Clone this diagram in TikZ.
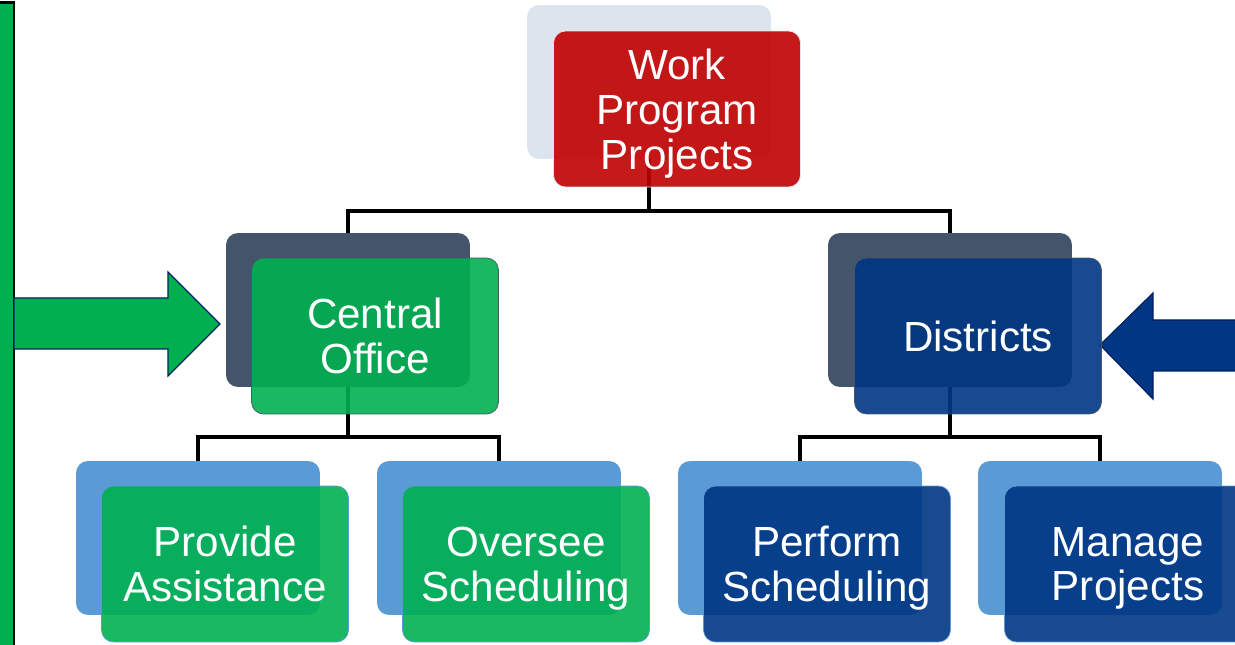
\documentclass[tikz,border=0pt]{standalone}
\usepackage{fontspec}
\setmainfont{Liberation Sans}
\definecolor{offgreen}{HTML}{00B050}
\definecolor{offblue}{HTML}{003683}
\definecolor{offred}{HTML}{C00000}
\definecolor{slate}{HTML}{44546A}
\definecolor{skyblue}{HTML}{5B9BD5}
\definecolor{paleblue}{HTML}{DCE4EE}
\definecolor{navy}{HTML}{002060}
\tikzset{
  backbox/.style={rounded corners=0.24cm, minimum width=4.88cm, minimum height=3.08cm, fill=#1},
  frontbox/.style={rounded corners=0.24cm, minimum width=4.94cm, minimum height=3.12cm,
    fill=#1, fill opacity=0.9, text opacity=1, text=white, align=center, text depth=0pt,
    font=\fontsize{24}{25.5}\selectfont},
  link/.style={line width=0.08cm, black}
}
\begin{document}
\begin{tikzpicture}[x=0.02cm,y=-0.02cm]
                \clip (0,0) rectangle (1235,645);
                % left bar and arrows
                \filldraw[fill=offgreen,draw=black,line width=0.06cm] (-20,3) rectangle (14,700);
                \filldraw[fill=offgreen,draw=navy,line width=0.7pt] (14,298) -- (168,298) -- (168,272) -- (220,324) -- (168,376) -- (168,349) -- (14,349) -- cycle;
                \filldraw[fill=offblue,draw=navy,line width=0.7pt] (1245,320) -- (1153,320) -- (1153,293) -- (1100,345) -- (1153,399) -- (1153,371) -- (1245,371) -- cycle;
                % back boxes
                \node[backbox=paleblue] (wppb) at (649,82) {};
                \node[backbox=slate] (cob) at (348,310) {};
                \node[backbox=slate] (distb) at (950,310) {};
                \node[backbox=skyblue] (pab) at (198,538) {};
                \node[backbox=skyblue] (osb) at (499,538) {};
                \node[backbox=skyblue] (psb) at (800,538) {};
                \node[backbox=skyblue] (mpb) at (1100,538) {};
                % links
                \draw[link] (wppb.south) -- ++(0,52) -| (cob.north);
                \draw[link] (wppb.south) -- ++(0,52) -| (distb.north);
                \draw[link] (cob.south) -- ++(0,50) -| (pab.north);
                \draw[link] (cob.south) -- ++(0,50) -| (osb.north);
                \draw[link] (distb.south) -- ++(0,50) -| (psb.north);
                \draw[link] (distb.south) -- ++(0,50) -| (mpb.north);
                % front boxes
                \node[frontbox=offred,draw=paleblue] (wpp) at (677,109) {Work\\Program\\Projects};
                \node[frontbox=offgreen,draw=slate] (co) at (375,336) {Central\\Office};
                \node[frontbox=offblue,draw=slate] (dist) at (978,336) {Districts};
                \node[frontbox=offgreen,draw=skyblue] (pa) at (225,564) {Provide\\Assistance};
                \node[frontbox=offgreen,draw=skyblue] (os) at (526,564) {Oversee\\Scheduling};
                \node[frontbox=offblue,draw=skyblue] (ps) at (827,564) {Perform\\Scheduling};
                \node[frontbox=offblue,draw=skyblue] (mp) at (1128,564) {Manage\\Projects};
\end{tikzpicture}
\end{document}
